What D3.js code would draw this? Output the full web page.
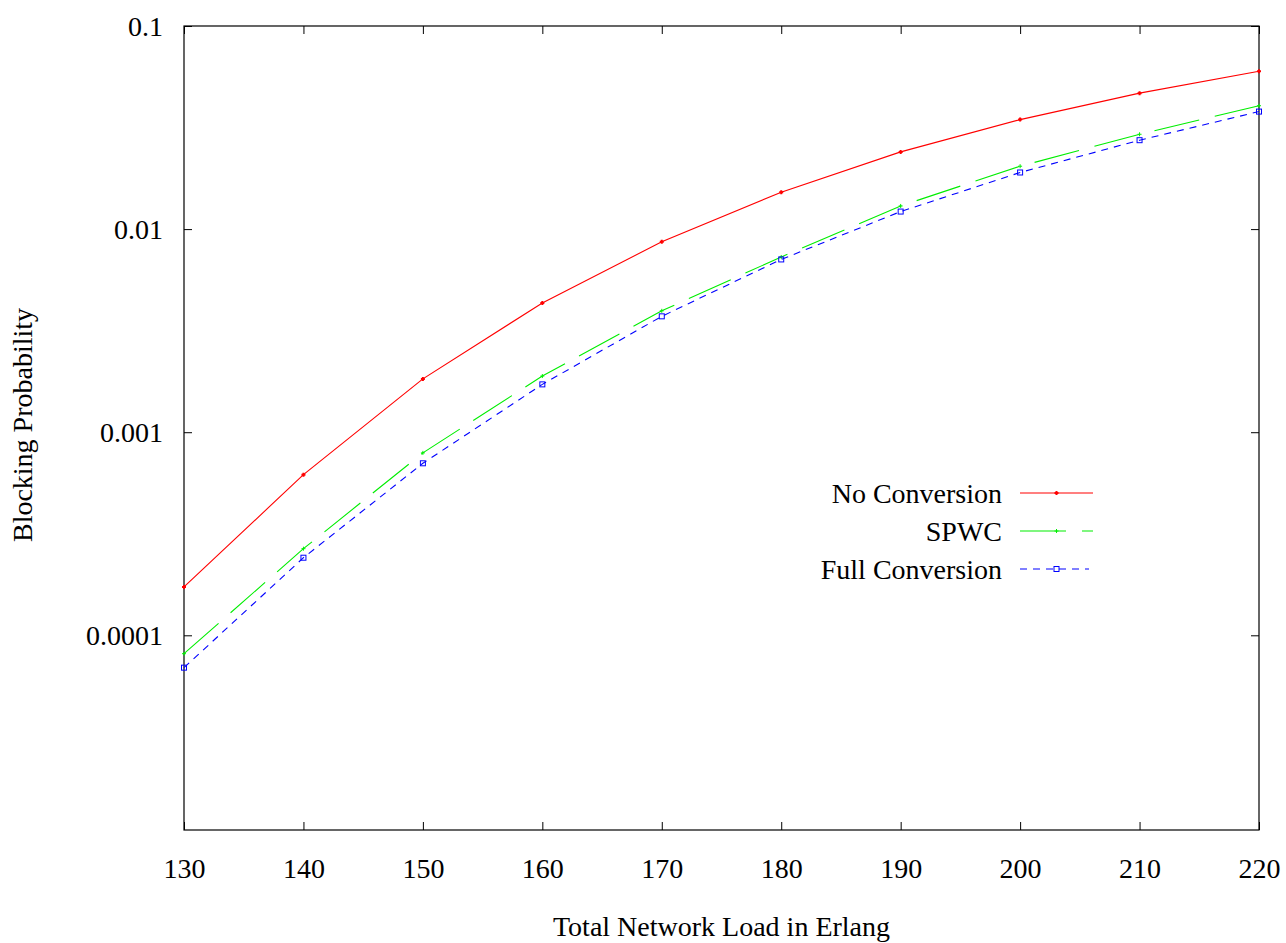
<!DOCTYPE html>
<html>
<head>
<meta charset="utf-8">
<script src="https://cdn.jsdelivr.net/npm/d3@7"></script>
<style>
  body { margin: 0; background: #fff; }
  text { font-family: "Liberation Serif", "Times New Roman", serif; }
</style>
</head>
<body>
<svg id="chart" width="1286" height="943"></svg>
<script>
// Offered load (Erlang) for each simulation point
const loads = [130, 140, 150, 160, 170, 180, 190, 200, 210, 220];

// Blocking probability per scheme
const noConversion   = [1.73e-4, 6.18e-4, 1.83e-3, 4.33e-3, 8.66e-3, 0.0152, 0.0240, 0.0346, 0.0467, 0.0599];
const spwc           = [8.12e-5, 2.67e-4, 7.91e-4, 1.89e-3, 3.96e-3, 7.29e-3, 0.0130, 0.0204, 0.0293, 0.0405];
const fullConversion = [6.93e-5, 2.41e-4, 7.03e-4, 1.72e-3, 3.72e-3, 7.09e-3, 0.0122, 0.0190, 0.0274, 0.0379];

const xTickValues = [130, 140, 150, 160, 170, 180, 190, 200, 210, 220];
const yTickValues = [0.1, 0.01, 0.001, 0.0001];
const yTickLabels = ["0.1", "0.01", "0.001", "0.0001"];

const seriesNames  = ["No Conversion", "SPWC", "Full Conversion"];
const seriesColors = ["#ff0000", "#00ee00", "#0000ff"];
const seriesDashes = [null, "46,16", "7,6"];
const seriesMarks  = ["dot", "plus", "square"];

const xLabel = "Total Network Load in Erlang";
const yLabel = "Blocking Probability";

const series = [noConversion, spwc, fullConversion].map((vals, i) => ({
  name: seriesNames[i],
  color: seriesColors[i],
  dash: seriesDashes[i],
  mark: seriesMarks[i],
  points: loads.map((l, j) => ({ x: l, y: vals[j] }))
}));

const W = 1286, H = 943;
const plot = { left: 184, right: 1259, top: 26, bottom: 830 };
const fontSize = 28;

const svg = d3.select("#chart");

const x = d3.scaleLinear().domain([130, 220]).range([plot.left, plot.right]);
const y = d3.scaleLog().domain([1.1e-5, 0.1]).range([plot.bottom, plot.top]);

const tickLen = 8;

// Axes with inward ticks on all four sides
const gx = svg.append("g")
  .attr("transform", `translate(0,${plot.bottom})`)
  .call(d3.axisBottom(x).tickValues(xTickValues).tickFormat(d3.format("d"))
    .tickSizeInner(-tickLen).tickSizeOuter(0).tickPadding(28));
const gxTop = svg.append("g")
  .attr("transform", `translate(0,${plot.top})`)
  .call(d3.axisTop(x).tickValues(xTickValues).tickFormat("")
    .tickSizeInner(-tickLen).tickSizeOuter(0));
const gy = svg.append("g")
  .attr("transform", `translate(${plot.left},0)`)
  .call(d3.axisLeft(y).tickValues(yTickValues)
    .tickFormat((d, i) => yTickLabels[i])
    .tickSizeInner(-tickLen).tickSizeOuter(0).tickPadding(21));
const gyRight = svg.append("g")
  .attr("transform", `translate(${plot.right},0)`)
  .call(d3.axisRight(y).tickValues(yTickValues).tickFormat("")
    .tickSizeInner(-tickLen).tickSizeOuter(0));

[gx, gxTop, gy, gyRight].forEach(g => {
  g.select(".domain").remove();
  g.selectAll(".tick line").attr("stroke", "#000").attr("stroke-width", 1);
  g.selectAll(".tick text")
    .attr("fill", "#000")
    .style("font-size", fontSize + "px")
    .style("font-family", "'Liberation Serif', 'Times New Roman', serif");
});
gy.selectAll(".tick text").attr("dy", "0.34em");

// Plot border
svg.append("rect")
  .attr("x", plot.left).attr("y", plot.top)
  .attr("width", plot.right - plot.left).attr("height", plot.bottom - plot.top)
  .attr("fill", "none").attr("stroke", "#000").attr("stroke-width", 1.2);

// Axis titles
svg.append("text")
  .attr("x", (plot.left + plot.right) / 2).attr("y", 936)
  .attr("text-anchor", "middle")
  .style("font-size", fontSize + "px")
  .text(xLabel);

svg.append("text")
  .attr("transform", `translate(32,${425}) rotate(-90)`)
  .attr("text-anchor", "middle")
  .style("font-size", fontSize + "px")
  .text(yLabel);

// Point markers
function drawMark(g, mark, cx, cy, color) {
  if (mark === "dot") {
    g.append("path")
      .attr("d", `M${cx - 2},${cy}H${cx + 2}M${cx},${cy - 2}V${cy + 2}`)
      .attr("stroke", color).attr("stroke-width", 2).attr("fill", "none");
  } else if (mark === "plus") {
    g.append("path")
      .attr("d", `M${cx - 2},${cy}H${cx + 2}M${cx},${cy - 2}V${cy + 2}`)
      .attr("stroke", color).attr("stroke-width", 1).attr("fill", "none");
  } else {
    g.append("rect")
      .attr("x", cx - 2.5).attr("y", cy - 2.5).attr("width", 5).attr("height", 5)
      .attr("stroke", color).attr("stroke-width", 1).attr("fill", "none");
  }
}

const line = d3.line().x(d => x(d.x)).y(d => y(d.y));

const gLines = svg.append("g");
series.forEach(s => {
  gLines.append("path")
    .datum(s.points)
    .attr("d", line)
    .attr("fill", "none")
    .attr("stroke", s.color)
    .attr("stroke-width", 1.1)
    .attr("stroke-dasharray", s.dash);
  const gm = gLines.append("g");
  s.points.forEach(p => drawMark(gm, s.mark, x(p.x), y(p.y), s.color));
});

// Legend
const legend = svg.append("g");
const legendRowY = [493, 531, 569];
const legendTextRight = 1002;
const legendLine = [1020, 1093];
series.forEach((s, i) => {
  const ly = legendRowY[i];
  legend.append("text")
    .attr("x", legendTextRight).attr("y", ly + 10)
    .attr("text-anchor", "end")
    .style("font-size", fontSize + "px")
    .text(s.name);
  legend.append("line")
    .attr("x1", legendLine[0]).attr("x2", s.dash === "7,6" ? 1089 : legendLine[1])
    .attr("y1", ly).attr("y2", ly)
    .attr("stroke", s.color).attr("stroke-width", 1.1)
    .attr("stroke-dasharray", s.dash);
  drawMark(legend, s.mark, (legendLine[0] + legendLine[1]) / 2, ly, s.color);
});
</script>
</body>
</html>
